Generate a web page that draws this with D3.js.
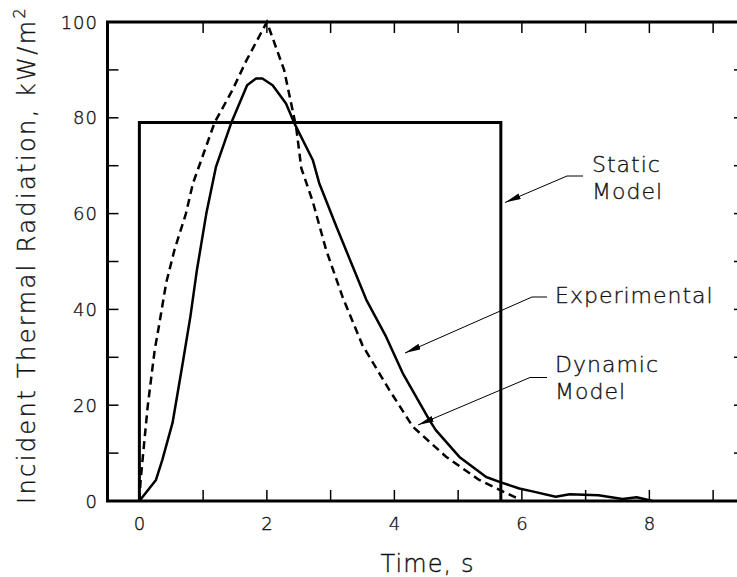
<!DOCTYPE html>
<html>
<head>
<meta charset="utf-8">
<script src="https://cdn.jsdelivr.net/npm/d3@7"></script>
<style>
  body { margin: 0; background: #fff; }
  text { font-family: "DejaVu Sans", sans-serif; font-weight: 200; fill: #111; stroke: #111; stroke-width: 0.35px; }
</style>
</head>
<body>
<div class="chart"></div>
<script>
// Data
var expTime = [0, 0.26, 0.36, 0.52, 0.68, 0.8, 0.9, 1.05, 1.2, 1.44, 1.69, 1.83, 1.93, 2.09, 2.3, 2.43, 2.72, 2.82, 3.09, 3.56, 3.87, 4.13, 4.55, 4.65, 5.02, 5.44, 5.67, 5.96, 6.2, 6.53, 6.75, 7.2, 7.58, 7.8, 8.05];
var expFlux = [0, 4.4, 8.6, 16.3, 28.8, 38.5, 48, 60, 69.7, 78.9, 86.8, 88.2, 88.2, 86.8, 83, 78.9, 71.2, 66.4, 57.3, 42, 34.3, 26.7, 16.9, 14.8, 9.2, 5.0, 3.9, 2.6, 1.9, 0.9, 1.4, 1.2, 0.4, 0.8, 0];

var dynTime = [0, 0.02, 0.06, 0.13, 0.24, 0.3, 0.42, 0.55, 0.73, 0.84, 1.18, 1.46, 1.68, 2.0, 2.27, 2.46, 2.54, 2.72, 2.93, 3.19, 3.5, 3.92, 4.29, 4.81, 5.33, 5.95];
var dynFlux = [0, 4.4, 10, 19.7, 31.5, 36, 45.5, 52.4, 60, 66.3, 79, 85.8, 92, 100, 90, 78, 69.5, 62.5, 52.4, 42.5, 32.5, 23.2, 15.5, 9.25, 4.4, 0.4];

var staticTime = [0, 0, 5.67, 5.67];
var staticFlux = [0, 79, 79, 0];

var xTicks = [0, 2, 4, 6, 8];
var yTicks = [0, 20, 40, 60, 80, 100];

var svgWidth = 737;
var svgHeight = 577;

var svg = d3.select(".chart")
  .append("svg")
  .attr("width", svgWidth)
  .attr("height", svgHeight);

var x = d3.scaleLinear().domain([-0.5, 9.5]).range([107.5, 745]);
var y = d3.scaleLinear().domain([0, 100]).range([501, 22]);

var xLeft = x(-0.5), xRight = x(9.5), yTop = y(100), yBottom = y(0);

// minor ticks (inward, all four sides)
var tickLen = 11;
var xMinor = d3.range(1, 10);
var yMinor = d3.range(10, 100, 10);
var ticks = svg.append("g").attr("stroke", "#000").attr("stroke-width", 1.5);
ticks.selectAll(".xb").data(xMinor).enter().append("line")
  .attr("x1", d => x(d)).attr("x2", d => x(d))
  .attr("y1", yBottom).attr("y2", yBottom - tickLen);
ticks.selectAll(".xt").data(xMinor).enter().append("line")
  .attr("x1", d => x(d)).attr("x2", d => x(d))
  .attr("y1", yTop).attr("y2", yTop + tickLen);
ticks.selectAll(".yl").data(yMinor).enter().append("line")
  .attr("x1", xLeft).attr("x2", xLeft + tickLen)
  .attr("y1", d => y(d)).attr("y2", d => y(d));
ticks.selectAll(".yr").data(yMinor).enter().append("line")
  .attr("x1", xRight).attr("x2", xRight - tickLen)
  .attr("y1", d => y(d)).attr("y2", d => y(d));

// frame
svg.append("rect")
  .attr("x", xLeft).attr("y", yTop)
  .attr("width", xRight - xLeft).attr("height", yBottom - yTop)
  .attr("fill", "none").attr("stroke", "#000").attr("stroke-width", 3);

// tick labels
svg.selectAll(".xlab").data(xTicks).enter().append("text")
  .attr("x", d => x(d)).attr("y", 530)
  .attr("text-anchor", "middle")
  .style("font-size", "18px")
  .text(d => d);
svg.selectAll(".ylab").data(yTicks).enter().append("text")
  .attr("x", 98).attr("y", d => y(d) + 6.5)
  .attr("text-anchor", "end")
  .style("font-size", "18px")
  .style("letter-spacing", "1px")
  .text(d => d);

// curves
var line = d3.line().x(d => x(d[0])).y(d => y(d[1]));

svg.append("path")
  .datum(d3.zip(staticTime, staticFlux))
  .attr("d", line)
  .attr("fill", "none").attr("stroke", "#000").attr("stroke-width", 3);

svg.append("path")
  .datum(d3.zip(dynTime, dynFlux))
  .attr("d", line)
  .attr("fill", "none").attr("stroke", "#000").attr("stroke-width", 2.5)
  .attr("stroke-dasharray", "8,5");

svg.append("path")
  .datum(d3.zip(expTime, expFlux))
  .attr("d", line)
  .attr("fill", "none").attr("stroke", "#000").attr("stroke-width", 2.5)
  .attr("stroke-linejoin", "round");

// axis titles
svg.append("text")
  .attr("x", 427).attr("y", 572)
  .attr("text-anchor", "middle")
  .attr("textLength", 93)
  .style("font-size", "24px")
  .text("Time,  s");

var yTitle = svg.append("text")
  .attr("transform", "translate(35,255) rotate(-90)")
  .attr("text-anchor", "middle")
  .style("font-size", "24px")
  .style("letter-spacing", "2.4px");
yTitle.append("tspan").text("Incident  Thermal  Radiation,  kW/m");
yTitle.append("tspan").attr("dy", -10).style("font-size", "16px").text("2");

// annotations with leader arrows
svg.append("defs").append("marker")
  .attr("id", "arrow")
  .attr("viewBox", "0 0 16 6")
  .attr("refX", 16).attr("refY", 3)
  .attr("markerWidth", 16).attr("markerHeight", 6)
  .attr("markerUnits", "userSpaceOnUse")
  .attr("orient", "auto")
  .append("path").attr("d", "M0,0 L16,3 L0,6 Z").attr("fill", "#000");

var notes = [
  { lines: ["Static", "Model"], tx: 592, ty: 172, lead: [[583, 176], [567, 176], [505, 202.5]] },
  { lines: ["Experimental"], tx: 555, ty: 303, lead: [[547, 297], [532, 297], [405, 353]] },
  { lines: ["Dynamic", "Model"], tx: 555, ty: 372, lead: [[547, 377.5], [530, 377.5], [418, 425]] }
];

notes.forEach(function(n) {
  svg.append("path")
    .attr("d", d3.line()(n.lead))
    .attr("fill", "none").attr("stroke", "#000").attr("stroke-width", 1)
    .attr("marker-end", "url(#arrow)");
  n.lines.forEach(function(t, i) {
    svg.append("text")
      .attr("x", n.tx).attr("y", n.ty + i * 27)
      .style("font-size", "22px")
      .style("letter-spacing", "1px")
      .text(t);
  });
});
</script>
</body>
</html>
